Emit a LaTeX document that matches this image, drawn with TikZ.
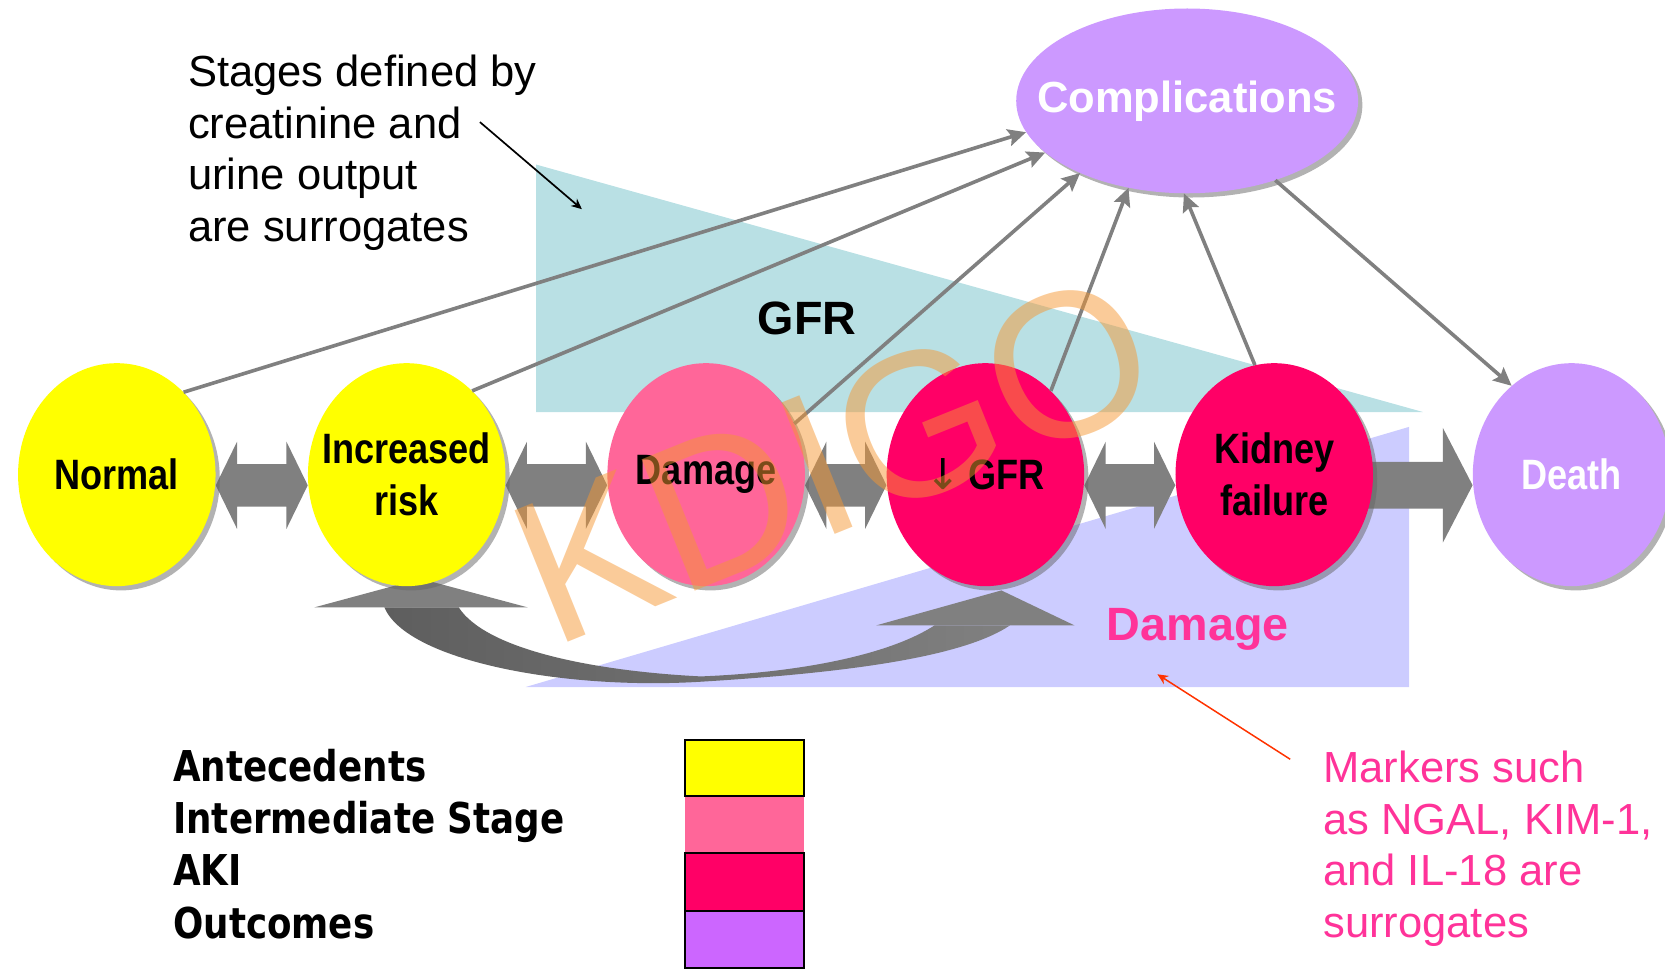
\documentclass[tikz,border=0pt]{standalone}
\usepackage{fontspec}
\setmainfont{Liberation Sans}
\newfontfamily\narrowfont[FakeStretch=0.85]{Liberation Sans}
\newfontfamily\legendfont[FakeStretch=0.84]{DejaVu Sans}
\newfontfamily\arrowglyph{DejaVu Sans}
\usetikzlibrary{shapes.geometric,arrows.meta,calc,shadows}
\pgfdeclarelayer{bg}
\pgfsetlayers{bg,main}
\definecolor{yel}{HTML}{FFFF00}
\definecolor{pinkI}{HTML}{FF6699}
\definecolor{akired}{HTML}{FF0066}
\definecolor{outc}{HTML}{CC99FF}
\definecolor{outleg}{HTML}{CC66FF}
\definecolor{gfrteal}{HTML}{B9E0E4}
\definecolor{dmglav}{HTML}{CCCCFF}
\definecolor{arrgray}{HTML}{808080}
\definecolor{darkarr}{HTML}{5E5E5E}
\definecolor{mkpink}{HTML}{FF3399}
\definecolor{redann}{HTML}{FF3300}
\definecolor{wmark}{HTML}{F59733}
\newcommand\dblarrow[2]{%
  \fill[arrgray] ($(#1.east)+(0,10)$) -- ++(20,-41) -- ++(0,21)
    -- ($(#2.west)+(-20,-10)$) -- ++(0,-21) -- ($(#2.west)+(0,10)$)
    -- ++(-20,41) -- ++(0,-21) -- ($(#1.east)+(20,30)$) -- ++(0,21) -- cycle;}
\begin{document}
\begin{tikzpicture}[x=1pt,y=-1pt,
  stage/.style={ellipse,inner ysep=0pt,inner xsep=-25pt,minimum width=186pt,minimum height=210pt,
    drop shadow={shadow xshift=4pt,shadow yshift=-4pt,fill=black!60,opacity=0.5},
    font=\narrowfont\bfseries\fontsize{40}{49}\selectfont,align=center},
  link/.style={draw=arrgray,line width=3.4pt,-{Stealth[length=17pt,width=16pt,inset=3pt]}},
  note/.style={line width=1.6pt,-{Stealth[length=10pt,width=9pt]}},
  legtext/.style={anchor=north west,inner sep=0pt,align=left,
    font=\legendfont\bfseries\fontsize{40}{49.3}\selectfont},
  body/.style={anchor=north west,inner sep=0pt,align=left,
    font=\fontsize{41}{48.5}\selectfont},
  biglabel/.style={anchor=base,inner sep=0pt,font=\bfseries\fontsize{44}{44}\selectfont},
]
\useasboundingbox (0,0) rectangle (1568,913);

% background triangles
\begin{pgfonlayer}{bg}
\fill[gfrteal] (505,155) -- (1340,388) -- (505,388) -- cycle;
\fill[dmglav] (495,647) -- (1327,402) -- (1327,647) -- cycle;
\end{pgfonlayer}

\node[biglabel] (gfrlbl) at (760,315) {GFR};
\node[biglabel,text=mkpink] (dmglbl) at (1128,603) {Damage};

% stages
\node[stage,fill=yel] (normal) at (110,447) {Normal};
\node[stage,fill=yel] (inc) at (383,447) {Increased\\risk};
\node[stage,fill=pinkI] (dmg) at (665,447) {Damage};
\node[stage,fill=akired] (gfr) at (928,447) {{\arrowglyph\mdseries ↓}\,GFR};
\node[stage,fill=akired] (kid) at (1200,447) {Kidney\\failure};
\node[stage,fill=outc,text=white] (death) at (1480,447) {Death};
\node[stage,fill=outc,text=white,minimum width=322pt,minimum height=174pt,inner xsep=-40pt,
  font=\bfseries\fontsize{41}{41}\selectfont] (comp) at (1118,95) {Complications};

% block arrows
\begin{pgfonlayer}{bg}
\dblarrow{normal}{inc}
\dblarrow{inc}{dmg}
\dblarrow{dmg}{gfr}
\dblarrow{gfr}{kid}
\fill[arrgray] ($(kid.east)+(-5,-12)$) -- ($(death.west)+(-28,-12)$) -- ++(0,-32)
  -- ($(death.west)+(0,10)$) -- ($(death.west)+(-28,64)$) -- ++(0,-32)
  -- ($(kid.east)+(-5,32)$) -- cycle;
% curved double arrow between increased risk and reduced GFR
\fill[arrgray] (296,572) -- (396,545) -- (497,572) -- cycle;
\fill[arrgray] (825,589) -- (943,556) -- (1012,589) -- cycle;
\shade[left color=darkarr,right color=arrgray]
  (362,572) .. controls (383,622) and (530,650) .. (660,642)
  .. controls (790,634) and (905,620) .. (951,589)
  -- (880,589) .. controls (840,615) and (760,633) .. (660,637)
  .. controls (560,632) and (458,612) .. (432,572) -- cycle;
\end{pgfonlayer}

% links to complications
\draw[link] (normal.51) -- (comp.191);
\draw[link] (inc.52) -- (comp.200);
\draw[link] (dmg.30) -- (comp.214);
\draw[link] (gfr.52) -- (comp.236);
\draw[link] (kid.100) -- (comp.268);
\draw[link] (comp.318) -- (death.124);

% annotations
\node[body] (stg) at (177,52) {Stages defined by\\creatinine and\\urine output\\are surrogates};
\coordinate (stgfrom) at (452,115);
\coordinate (stgto) at (548,197);
\draw[note,black] (stgfrom) -- (stgto);

\node[body,text=mkpink] (mk) at (1246,707) {Markers such\\as NGAL, KIM-1,\\and IL-18 are\\surrogates};
\coordinate (mkfrom) at (1215,715);
\coordinate (mkto) at (1090,635);
\draw[note,draw=redann,fill=redann,line width=1.4pt] (mkfrom) -- (mkto);

% legend
\node[legtext] (leg) at (163,705) {Antecedents\\Intermediate Stage\\AKI\\Outcomes};
\fill[pinkI] (645,750) rectangle (757,803);
\draw[fill=yel,line width=2pt] (645,697) rectangle (757,750);
\draw[fill=akired,line width=2pt] (645,803) rectangle (757,858);
\draw[fill=outleg,line width=2pt] (645,858) rectangle (757,912);

% watermark
\node[rotate=22,text=wmark,text opacity=0.5,inner sep=0pt,
  font=\fontsize{194}{194}\selectfont] (wm) at (785,432) {KDIGO};
\end{tikzpicture}
\end{document}
